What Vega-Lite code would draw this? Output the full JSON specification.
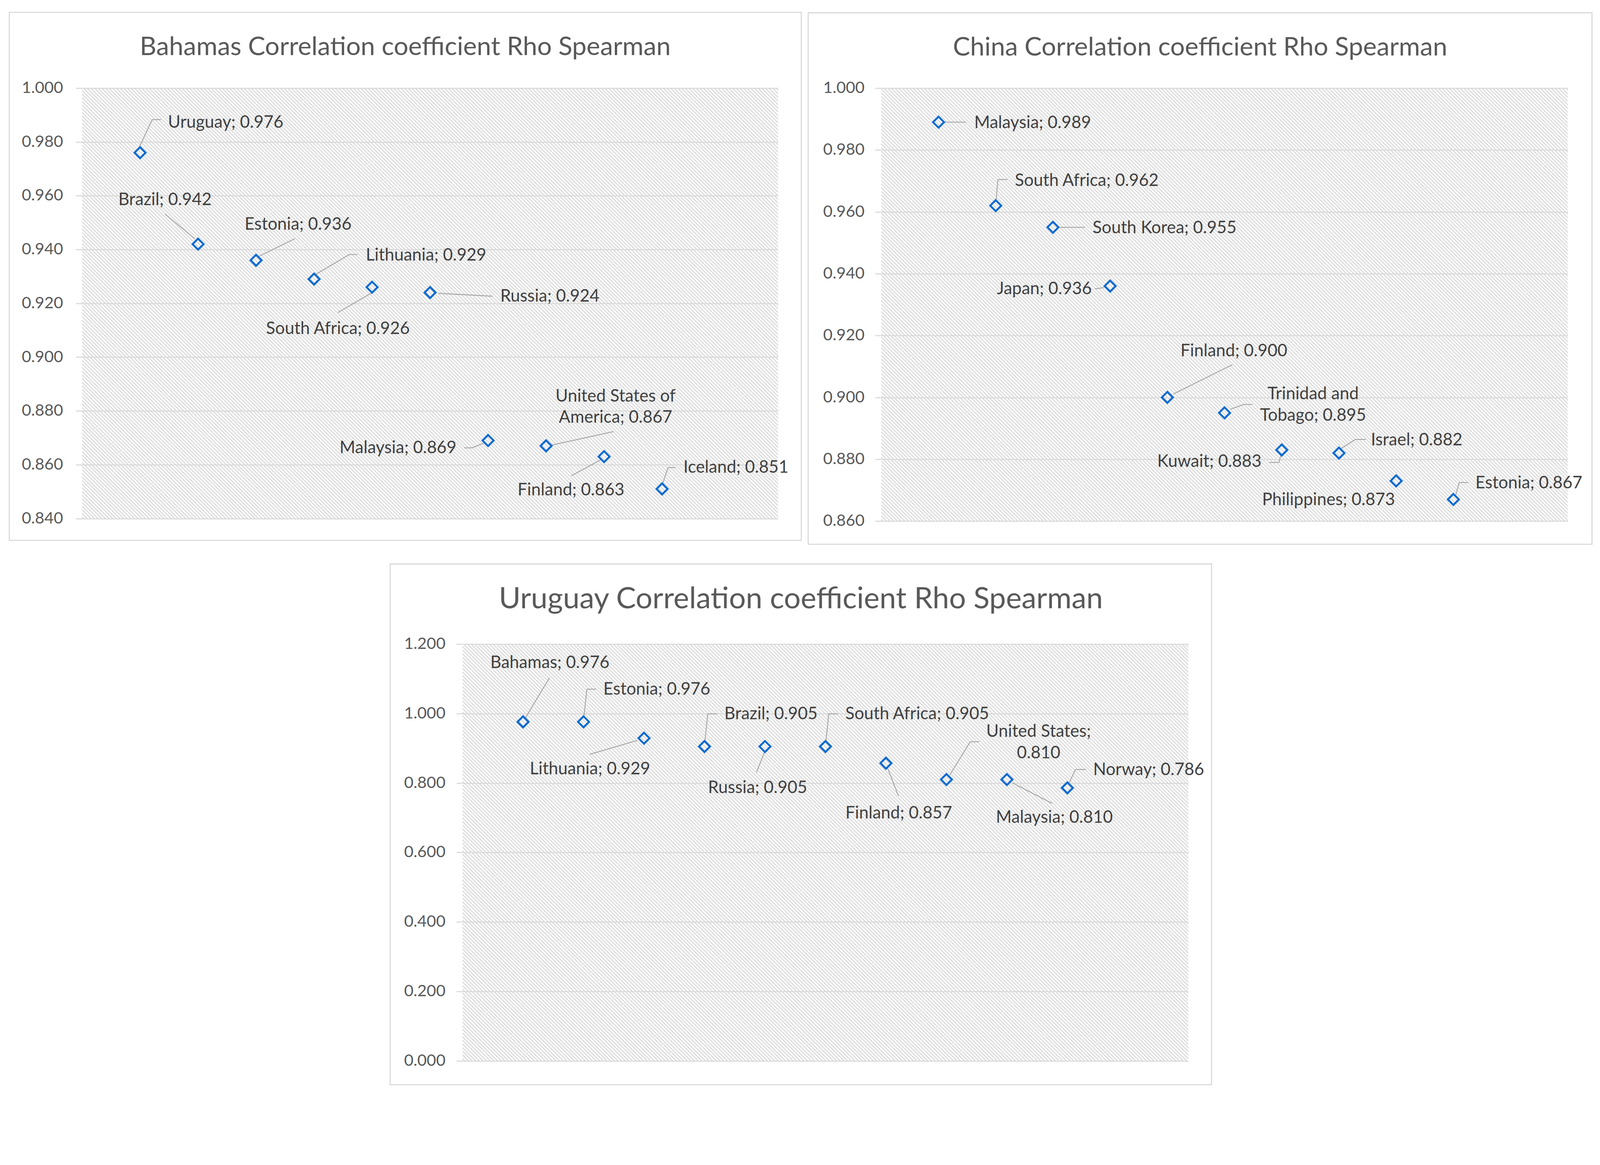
{
  "$schema": "https://vega.github.io/schema/vega-lite/v6.json",
  "background": "white",
  "padding": {"left": 22, "top": 29.6, "right": 10, "bottom": 10},
  "spacing": 47,
  "center": true,
  "vconcat": [
    {
      "hconcat": [
        {
          "width": 1781.8,
          "height": 1101.6,
          "title": {"text": "Bahamas Correlation coefficient Rho Spearman"},
          "data": {"values": [
            {"i": 1, "c": "Uruguay", "rho": 0.976, "label": "Uruguay; 0.976"},
            {"i": 2, "c": "Brazil", "rho": 0.942, "label": "Brazil; 0.942"},
            {"i": 3, "c": "Estonia", "rho": 0.936, "label": "Estonia; 0.936"},
            {"i": 4, "c": "Lithuania", "rho": 0.929, "label": "Lithuania; 0.929"},
            {"i": 5, "c": "South Africa", "rho": 0.926, "label": "South Africa; 0.926"},
            {"i": 6, "c": "Russia", "rho": 0.924, "label": "Russia; 0.924"},
            {"i": 7, "c": "Malaysia", "rho": 0.869, "label": "Malaysia; 0.869"},
            {"i": 8, "c": "United States of America", "rho": 0.867, "label": "United States of\nAmerica; 0.867"},
            {"i": 9, "c": "Finland", "rho": 0.863, "label": "Finland; 0.863"},
            {"i": 10, "c": "Iceland", "rho": 0.851, "label": "Iceland; 0.851"}
          ]},
          "layer": [
            {"data": {"values": [{}]}, "mark": {"type": "rect", "filled": false, "color": "#d9d9d9", "strokeWidth": 2.8},
              "encoding": {
                "x": {"datum": -1.2545, "type": "quantitative", "scale": {"domain": [0, 12], "nice": false, "zero": false}, "axis": null}, "x2": {"datum": 12.3994},
                "y": {"datum": 0.83187, "type": "quantitative", "scale": {"domain": [0.84, 1], "nice": false, "zero": false}}, "y2": {"datum": 1.02816}}},
            {"data": {"values": [{}]}, "mark": {"type": "rule", "clip": true, "color": "#dadada", "strokeWidth": 2400, "strokeDash": [2.8, 3.8], "strokeCap": "butt", "xOffset": -1000, "yOffset": 1000, "x2Offset": 1000, "y2Offset": -1000},
              "encoding": {
                "x": {"datum": 6, "type": "quantitative", "scale": {"domain": [0, 12], "nice": false, "zero": false}, "axis": null}, "x2": {"datum": 6},
                "y": {"datum": 0.92, "type": "quantitative", "scale": {"domain": [0.84, 1], "nice": false, "zero": false}}, "y2": {"datum": 0.92}}},
            {
              "encoding": {
                "x": {"field": "i", "type": "quantitative", "scale": {"domain": [0, 12], "nice": false, "zero": false}, "axis": null},
                "y": {"field": "rho", "type": "quantitative", "scale": {"domain": [0.84, 1], "nice": false, "zero": false},
                  "axis": {"title": null, "values": [0.84, 0.86, 0.88, 0.9, 0.92, 0.94, 0.96, 0.98, 1], "format": ".3f", "labelPadding": 32.9}}
              },
              "layer": [
                {"transform": [{"filter": "datum.c=='Uruguay'"}], "layer": [
                  {"mark": {"type": "rule", "xOffset": -1.9, "yOffset": -14.1, "x2Offset": 31, "y2Offset": -84.7}, "encoding": {"x2": {"field": "i"}, "y2": {"field": "rho"}}},
                  {"mark": {"type": "rule", "xOffset": 31, "yOffset": -84.7, "x2Offset": 53.6, "y2Offset": -84.7}, "encoding": {"x2": {"field": "i"}, "y2": {"field": "rho"}}},
                  {"mark": {"type": "text", "align": "left", "dx": 71.5, "dy": -64}, "encoding": {"text": {"field": "label"}}}
                ]},
                {"transform": [{"filter": "datum.c=='Brazil'"}], "layer": [
                  {"mark": {"type": "rule", "xOffset": -84.7, "yOffset": -77.1, "x2Offset": -8.5, "y2Offset": -14.1}, "encoding": {"x2": {"field": "i"}, "y2": {"field": "rho"}}},
                  {"mark": {"type": "text", "dx": -84.7, "dy": -99.7}, "encoding": {"text": {"field": "label"}}}
                ]},
                {"transform": [{"filter": "datum.c=='Estonia'"}], "layer": [
                  {"mark": {"type": "rule", "xOffset": 7.5, "yOffset": -10.3, "x2Offset": 99.7, "y2Offset": -55.5}, "encoding": {"x2": {"field": "i"}, "y2": {"field": "rho"}}},
                  {"mark": {"type": "text", "align": "left", "dx": -29.2, "dy": -78.1}, "encoding": {"text": {"field": "label"}}}
                ]},
                {"transform": [{"filter": "datum.c=='Lithuania'"}], "layer": [
                  {"mark": {"type": "rule", "xOffset": 2.8, "yOffset": -11.3, "x2Offset": 90.3, "y2Offset": -63}, "encoding": {"x2": {"field": "i"}, "y2": {"field": "rho"}}},
                  {"mark": {"type": "rule", "xOffset": 90.3, "yOffset": -63, "x2Offset": 111, "y2Offset": -63}, "encoding": {"x2": {"field": "i"}, "y2": {"field": "rho"}}},
                  {"mark": {"type": "text", "align": "left", "dx": 132.6, "dy": -47}, "encoding": {"text": {"field": "label"}}}
                ]},
                {"transform": [{"filter": "datum.c=='South Africa'"}], "layer": [
                  {"mark": {"type": "rule", "xOffset": -1.9, "yOffset": 15.1, "x2Offset": -87.5, "y2Offset": 64.9}, "encoding": {"x2": {"field": "i"}, "y2": {"field": "rho"}}},
                  {"mark": {"type": "text", "dx": -87.5, "dy": 119.5}, "encoding": {"text": {"field": "label"}}}
                ]},
                {"transform": [{"filter": "datum.c=='Russia'"}], "layer": [
                  {"mark": {"type": "rule", "xOffset": 21.6, "yOffset": 1.9, "x2Offset": 159.9, "y2Offset": 9.4}, "encoding": {"x2": {"field": "i"}, "y2": {"field": "rho"}}},
                  {"mark": {"type": "text", "align": "left", "dx": 179.7, "dy": 23.5}, "encoding": {"text": {"field": "label"}}}
                ]},
                {"transform": [{"filter": "datum.c=='Malaysia'"}], "layer": [
                  {"mark": {"type": "rule", "xOffset": -61.1, "yOffset": 18.8, "x2Offset": -41.4, "y2Offset": 18.8}, "encoding": {"x2": {"field": "i"}, "y2": {"field": "rho"}}},
                  {"mark": {"type": "rule", "xOffset": -41.4, "yOffset": 18.8, "x2Offset": -8.5, "y2Offset": 5.6}, "encoding": {"x2": {"field": "i"}, "y2": {"field": "rho"}}},
                  {"mark": {"type": "text", "align": "right", "dx": -80.9, "dy": 32.9}, "encoding": {"text": {"field": "label"}}}
                ]},
                {"transform": [{"filter": "datum.c=='United States of America'"}], "layer": [
                  {"mark": {"type": "rule", "xOffset": 14.1, "yOffset": -1.9, "x2Offset": 173.1, "y2Offset": -36.7}, "encoding": {"x2": {"field": "i"}, "y2": {"field": "rho"}}},
                  {"mark": {"type": "text", "dx": 177.8, "dy": -113.8}, "encoding": {"text": {"field": "label"}}}
                ]},
                {"transform": [{"filter": "datum.c=='Finland'"}], "layer": [
                  {"mark": {"type": "rule", "xOffset": -7.5, "yOffset": 7.5, "x2Offset": -83.7, "y2Offset": 48.9}, "encoding": {"x2": {"field": "i"}, "y2": {"field": "rho"}}},
                  {"mark": {"type": "text", "dx": -84.7, "dy": 98.8}, "encoding": {"text": {"field": "label"}}}
                ]},
                {"transform": [{"filter": "datum.c=='Iceland'"}], "layer": [
                  {"mark": {"type": "rule", "xOffset": 1.9, "yOffset": -14.1, "x2Offset": 15.1, "y2Offset": -54.6}, "encoding": {"x2": {"field": "i"}, "y2": {"field": "rho"}}},
                  {"mark": {"type": "rule", "xOffset": 15.1, "yOffset": -54.6, "x2Offset": 34.8, "y2Offset": -54.6}, "encoding": {"x2": {"field": "i"}, "y2": {"field": "rho"}}},
                  {"mark": {"type": "text", "align": "left", "dx": 54.6, "dy": -41.4}, "encoding": {"text": {"field": "label"}}}
                ]},
                {"mark": "point"}
              ]
            }
          ]
        },
        {
          "width": 1757.3,
          "height": 1108.2,
          "title": {"text": "China Correlation coefficient Rho Spearman"},
          "data": {"values": [
            {"i": 1, "c": "Malaysia", "rho": 0.989, "label": "Malaysia; 0.989"},
            {"i": 2, "c": "South Africa", "rho": 0.962, "label": "South Africa; 0.962"},
            {"i": 3, "c": "South Korea", "rho": 0.955, "label": "South Korea; 0.955"},
            {"i": 4, "c": "Japan", "rho": 0.936, "label": "Japan; 0.936"},
            {"i": 5, "c": "Finland", "rho": 0.900, "label": "Finland; 0.900"},
            {"i": 6, "c": "Trinidad and Tobago", "rho": 0.895, "label": "Trinidad and\nTobago; 0.895"},
            {"i": 7, "c": "Kuwait", "rho": 0.883, "label": "Kuwait; 0.883"},
            {"i": 8, "c": "Israel", "rho": 0.882, "label": "Israel; 0.882"},
            {"i": 9, "c": "Philippines", "rho": 0.873, "label": "Philippines; 0.873"},
            {"i": 10, "c": "Estonia", "rho": 0.867, "label": "Estonia; 0.867"}
          ]},
          "layer": [
            {"data": {"values": [{}]}, "mark": {"type": "rect", "filled": false, "color": "#d9d9d9", "strokeWidth": 2.8},
              "encoding": {
                "x": {"datum": -1.2784, "type": "quantitative", "scale": {"domain": [0, 12], "nice": false, "zero": false}, "axis": null}, "x2": {"datum": 12.4237},
                "y": {"datum": 0.85251, "type": "quantitative", "scale": {"domain": [0.86, 1], "nice": false, "zero": false}}, "y2": {"datum": 1.02436}}},
            {"data": {"values": [{}]}, "mark": {"type": "rule", "clip": true, "color": "#dadada", "strokeWidth": 2400, "strokeDash": [2.8, 3.8], "strokeCap": "butt", "xOffset": -1000, "yOffset": 1000, "x2Offset": 1000, "y2Offset": -1000},
              "encoding": {
                "x": {"datum": 6, "type": "quantitative", "scale": {"domain": [0, 12], "nice": false, "zero": false}, "axis": null}, "x2": {"datum": 6},
                "y": {"datum": 0.93, "type": "quantitative", "scale": {"domain": [0.86, 1], "nice": false, "zero": false}}, "y2": {"datum": 0.93}}},
            {
              "encoding": {
                "x": {"field": "i", "type": "quantitative", "scale": {"domain": [0, 12], "nice": false, "zero": false}, "axis": null},
                "y": {"field": "rho", "type": "quantitative", "scale": {"domain": [0.86, 1], "nice": false, "zero": false},
                  "axis": {"title": null, "values": [0.86, 0.88, 0.9, 0.92, 0.94, 0.96, 0.98, 1], "format": ".3f", "labelPadding": 27.3}}
              },
              "layer": [
                {"transform": [{"filter": "datum.c=='Malaysia'"}], "layer": [
                  {"mark": {"type": "rule", "xOffset": 15.1, "yOffset": 0, "x2Offset": 70.6, "y2Offset": 0}, "encoding": {"x2": {"field": "i"}, "y2": {"field": "rho"}}},
                  {"mark": {"type": "text", "align": "left", "dx": 91.3, "dy": 15.1}, "encoding": {"text": {"field": "label"}}}
                ]},
                {"transform": [{"filter": "datum.c=='South Africa'"}], "layer": [
                  {"mark": {"type": "rule", "xOffset": 0.9, "yOffset": -13.2, "x2Offset": 5.6, "y2Offset": -66.8}, "encoding": {"x2": {"field": "i"}, "y2": {"field": "rho"}}},
                  {"mark": {"type": "rule", "xOffset": 5.6, "yOffset": -66.8, "x2Offset": 30.1, "y2Offset": -66.8}, "encoding": {"x2": {"field": "i"}, "y2": {"field": "rho"}}},
                  {"mark": {"type": "text", "align": "left", "dx": 48.9, "dy": -50.8}, "encoding": {"text": {"field": "label"}}}
                ]},
                {"transform": [{"filter": "datum.c=='South Korea'"}], "layer": [
                  {"mark": {"type": "rule", "xOffset": 16, "yOffset": 0, "x2Offset": 81.8, "y2Offset": 0}, "encoding": {"x2": {"field": "i"}, "y2": {"field": "rho"}}},
                  {"mark": {"type": "text", "align": "left", "dx": 101.6, "dy": 15.1}, "encoding": {"text": {"field": "label"}}}
                ]},
                {"transform": [{"filter": "datum.c=='Japan'"}], "layer": [
                  {"mark": {"type": "rule", "xOffset": -39.5, "yOffset": 7.5, "x2Offset": -16, "y2Offset": 3.8}, "encoding": {"x2": {"field": "i"}, "y2": {"field": "rho"}}},
                  {"mark": {"type": "text", "align": "right", "dx": -47, "dy": 20.7}, "encoding": {"text": {"field": "label"}}}
                ]},
                {"transform": [{"filter": "datum.c=='Finland'"}], "layer": [
                  {"mark": {"type": "rule", "xOffset": 15.1, "yOffset": -8.5, "x2Offset": 166.5, "y2Offset": -83.7}, "encoding": {"x2": {"field": "i"}, "y2": {"field": "rho"}}},
                  {"mark": {"type": "text", "dx": 170.3, "dy": -105.4}, "encoding": {"text": {"field": "label"}}}
                ]},
                {"transform": [{"filter": "datum.c=='Trinidad and Tobago'"}], "layer": [
                  {"mark": {"type": "rule", "xOffset": 15.1, "yOffset": -9.4, "x2Offset": 49.9, "y2Offset": -21.6}, "encoding": {"x2": {"field": "i"}, "y2": {"field": "rho"}}},
                  {"mark": {"type": "rule", "xOffset": 49.9, "yOffset": -21.6, "x2Offset": 71.5, "y2Offset": -21.6}, "encoding": {"x2": {"field": "i"}, "y2": {"field": "rho"}}},
                  {"mark": {"type": "text", "dx": 226.7, "dy": -34.8}, "encoding": {"text": {"field": "label"}}}
                ]},
                {"transform": [{"filter": "datum.c=='Kuwait'"}], "layer": [
                  {"mark": {"type": "rule", "xOffset": -32, "yOffset": 32, "x2Offset": -6.6, "y2Offset": 32}, "encoding": {"x2": {"field": "i"}, "y2": {"field": "rho"}}},
                  {"mark": {"type": "rule", "xOffset": -6.6, "yOffset": 32, "x2Offset": -1.9, "y2Offset": 11.3}, "encoding": {"x2": {"field": "i"}, "y2": {"field": "rho"}}},
                  {"mark": {"type": "text", "align": "right", "dx": -51.7, "dy": 43.3}, "encoding": {"text": {"field": "label"}}}
                ]},
                {"transform": [{"filter": "datum.c=='Israel'"}], "layer": [
                  {"mark": {"type": "rule", "xOffset": 3.8, "yOffset": -10.3, "x2Offset": 42.3, "y2Offset": -34.8}, "encoding": {"x2": {"field": "i"}, "y2": {"field": "rho"}}},
                  {"mark": {"type": "rule", "xOffset": 42.3, "yOffset": -34.8, "x2Offset": 68.7, "y2Offset": -34.8}, "encoding": {"x2": {"field": "i"}, "y2": {"field": "rho"}}},
                  {"mark": {"type": "text", "align": "left", "dx": 81.8, "dy": -19.8}, "encoding": {"text": {"field": "label"}}}
                ]},
                {"transform": [{"filter": "datum.c=='Philippines'"}], "mark": {"type": "text", "dx": -173.1, "dy": 62.1}, "encoding": {"text": {"field": "label"}}},
                {"transform": [{"filter": "datum.c=='Estonia'"}], "layer": [
                  {"mark": {"type": "rule", "xOffset": 4.7, "yOffset": -6.6, "x2Offset": 15.1, "y2Offset": -43.3}, "encoding": {"x2": {"field": "i"}, "y2": {"field": "rho"}}},
                  {"mark": {"type": "rule", "xOffset": 15.1, "yOffset": -43.3, "x2Offset": 38.6, "y2Offset": -43.3}, "encoding": {"x2": {"field": "i"}, "y2": {"field": "rho"}}},
                  {"mark": {"type": "text", "align": "left", "dx": 56.4, "dy": -28.2}, "encoding": {"text": {"field": "label"}}}
                ]},
                {"mark": "point"}
              ]
            }
          ]
        }
      ],
      "spacing": 14.1
    },
    {
      "width": 1858,
      "height": 1066.8,
      "title": {"text": "Uruguay Correlation coefficient Rho Spearman", "fontSize": 76, "offset": -131},
      "data": {"values": [
        {"i": 1, "c": "Bahamas", "rho": 0.976, "label": "Bahamas; 0.976"},
        {"i": 2, "c": "Estonia", "rho": 0.976, "label": "Estonia; 0.976"},
        {"i": 3, "c": "Lithuania", "rho": 0.929, "label": "Lithuania; 0.929"},
        {"i": 4, "c": "Brazil", "rho": 0.905, "label": "Brazil; 0.905"},
        {"i": 5, "c": "Russia", "rho": 0.905, "label": "Russia; 0.905"},
        {"i": 6, "c": "South Africa", "rho": 0.905, "label": "South Africa; 0.905"},
        {"i": 7, "c": "Finland", "rho": 0.857, "label": "Finland; 0.857"},
        {"i": 8, "c": "United States", "rho": 0.810, "label": "United States;\n0.810"},
        {"i": 9, "c": "Malaysia", "rho": 0.810, "label": "Malaysia; 0.810"},
        {"i": 10, "c": "Norway", "rho": 0.786, "label": "Norway; 0.786"}
      ]},
      "layer": [
        {"data": {"values": [{}]}, "mark": {"type": "rect", "filled": false, "color": "#d9d9d9", "strokeWidth": 2.8},
          "encoding": {
            "x": {"datum": -1.197, "type": "quantitative", "scale": {"domain": [0, 12], "nice": false, "zero": false}, "axis": null}, "x2": {"datum": 12.383},
            "y": {"datum": -0.06878, "type": "quantitative", "scale": {"domain": [0, 1.2], "nice": false, "zero": false}}, "y2": {"datum": 1.43069}}},
        {"data": {"values": [{}]}, "mark": {"type": "rule", "clip": true, "color": "#dadada", "strokeWidth": 2400, "strokeDash": [2.8, 3.8], "strokeCap": "butt", "xOffset": -1000, "yOffset": 1000, "x2Offset": 1000, "y2Offset": -1000},
          "encoding": {
            "x": {"datum": 6, "type": "quantitative", "scale": {"domain": [0, 12], "nice": false, "zero": false}, "axis": null}, "x2": {"datum": 6},
            "y": {"datum": 0.6, "type": "quantitative", "scale": {"domain": [0, 1.2], "nice": false, "zero": false}}, "y2": {"datum": 0.6}}},
        {
          "encoding": {
            "x": {"field": "i", "type": "quantitative", "scale": {"domain": [0, 12], "nice": false, "zero": false}, "axis": null},
            "y": {"field": "rho", "type": "quantitative", "scale": {"domain": [0, 1.2], "nice": false, "zero": false},
              "axis": {"title": null, "values": [0, 0.2, 0.4, 0.6, 0.8, 1, 1.2], "format": ".3f", "labelPadding": 28.2}}
          },
          "layer": [
            {"transform": [{"filter": "datum.c=='Bahamas'"}], "layer": [
              {"mark": {"type": "rule", "xOffset": 5.6, "yOffset": -9.4, "x2Offset": 67.7, "y2Offset": -112.9}, "encoding": {"x2": {"field": "i"}, "y2": {"field": "rho"}}},
              {"mark": {"type": "text", "dx": 68.7, "dy": -137.3}, "encoding": {"text": {"field": "label"}}}
            ]},
            {"transform": [{"filter": "indexof(['Estonia','Brazil','South Africa'], datum.c) >= 0"}], "layer": [
              {"mark": {"type": "rule", "xOffset": 0.9, "yOffset": -11.3, "x2Offset": 8.5, "y2Offset": -83.7}, "encoding": {"x2": {"field": "i"}, "y2": {"field": "rho"}}},
              {"mark": {"type": "rule", "xOffset": 8.5, "yOffset": -83.7, "x2Offset": 32, "y2Offset": -83.7}, "encoding": {"x2": {"field": "i"}, "y2": {"field": "rho"}}},
              {"mark": {"type": "text", "align": "left", "dx": 50.8, "dy": -69.6}, "encoding": {"text": {"field": "label"}}}
            ]},
            {"transform": [{"filter": "datum.c=='Lithuania'"}], "layer": [
              {"mark": {"type": "rule", "xOffset": -16.9, "yOffset": 5.6, "x2Offset": -139.2, "y2Offset": 41.4}, "encoding": {"x2": {"field": "i"}, "y2": {"field": "rho"}}},
              {"mark": {"type": "text", "dx": -138.3, "dy": 92.2}, "encoding": {"text": {"field": "label"}}}
            ]},
            {"transform": [{"filter": "datum.c=='Russia'"}], "layer": [
              {"mark": {"type": "rule", "xOffset": 0, "yOffset": 11.3, "x2Offset": -21.6, "y2Offset": 65.9}, "encoding": {"x2": {"field": "i"}, "y2": {"field": "rho"}}},
              {"mark": {"type": "text", "dx": -18.8, "dy": 119.5}, "encoding": {"text": {"field": "label"}}}
            ]},
            {"transform": [{"filter": "datum.c=='Finland'"}], "layer": [
              {"mark": {"type": "rule", "xOffset": 4.7, "yOffset": 13.2, "x2Offset": 32, "y2Offset": 83.7}, "encoding": {"x2": {"field": "i"}, "y2": {"field": "rho"}}},
              {"mark": {"type": "text", "dx": 32.9, "dy": 141.1}, "encoding": {"text": {"field": "label"}}}
            ]},
            {"transform": [{"filter": "datum.c=='United States'"}], "layer": [
              {"mark": {"type": "rule", "xOffset": 8.5, "yOffset": -11.3, "x2Offset": 61.1, "y2Offset": -96.9}, "encoding": {"x2": {"field": "i"}, "y2": {"field": "rho"}}},
              {"mark": {"type": "rule", "xOffset": 61.1, "yOffset": -96.9, "x2Offset": 83.7, "y2Offset": -96.9}, "encoding": {"x2": {"field": "i"}, "y2": {"field": "rho"}}},
              {"mark": {"type": "text", "dx": 236.1, "dy": -109.1}, "encoding": {"text": {"field": "label"}}}
            ]},
            {"transform": [{"filter": "datum.c=='Malaysia'"}], "layer": [
              {"mark": {"type": "rule", "xOffset": 14.1, "yOffset": 8.5, "x2Offset": 115.7, "y2Offset": 61.1}, "encoding": {"x2": {"field": "i"}, "y2": {"field": "rho"}}},
              {"mark": {"type": "text", "dx": 121.4, "dy": 111}, "encoding": {"text": {"field": "label"}}}
            ]},
            {"transform": [{"filter": "datum.c=='Norway'"}], "layer": [
              {"mark": {"type": "rule", "xOffset": 3.8, "yOffset": -11.3, "x2Offset": 20.7, "y2Offset": -47}, "encoding": {"x2": {"field": "i"}, "y2": {"field": "rho"}}},
              {"mark": {"type": "rule", "xOffset": 20.7, "yOffset": -47, "x2Offset": 48, "y2Offset": -47}, "encoding": {"x2": {"field": "i"}, "y2": {"field": "rho"}}},
              {"mark": {"type": "text", "align": "left", "dx": 65.9, "dy": -32.9}, "encoding": {"text": {"field": "label"}}}
            ]},
            {"mark": "point"}
          ]
        }
      ]
    }
  ],
  "config": {
    "font": "Lato",
    "view": {"stroke": null},
    "title": {"font": "Lato", "fontSize": 66, "fontWeight": "normal", "color": "#595959", "anchor": "middle", "frame": "bounds", "baseline": "alphabetic", "offset": -125},
    "axis": {"labelFont": "Lato", "labelFontSize": 41.5, "labelColor": "#595959", "tickColor": "#d9d9d9", "tickWidth": 2.8, "tickSize": 16, "grid": true, "gridColor": "#d9d9d9", "gridWidth": 2.8, "domain": false, "zindex": 1},
    "point": {"shape": "diamond", "filled": false, "size": 800, "strokeWidth": 5, "color": "#0e6bd0", "opacity": 1},
    "rule": {"color": "#a6a6a6", "strokeWidth": 2.35},
    "text": {"font": "Lato", "fontSize": 43.5, "color": "#404040", "baseline": "alphabetic", "lineBreak": "\n", "lineHeight": 54.6}
  }
}
